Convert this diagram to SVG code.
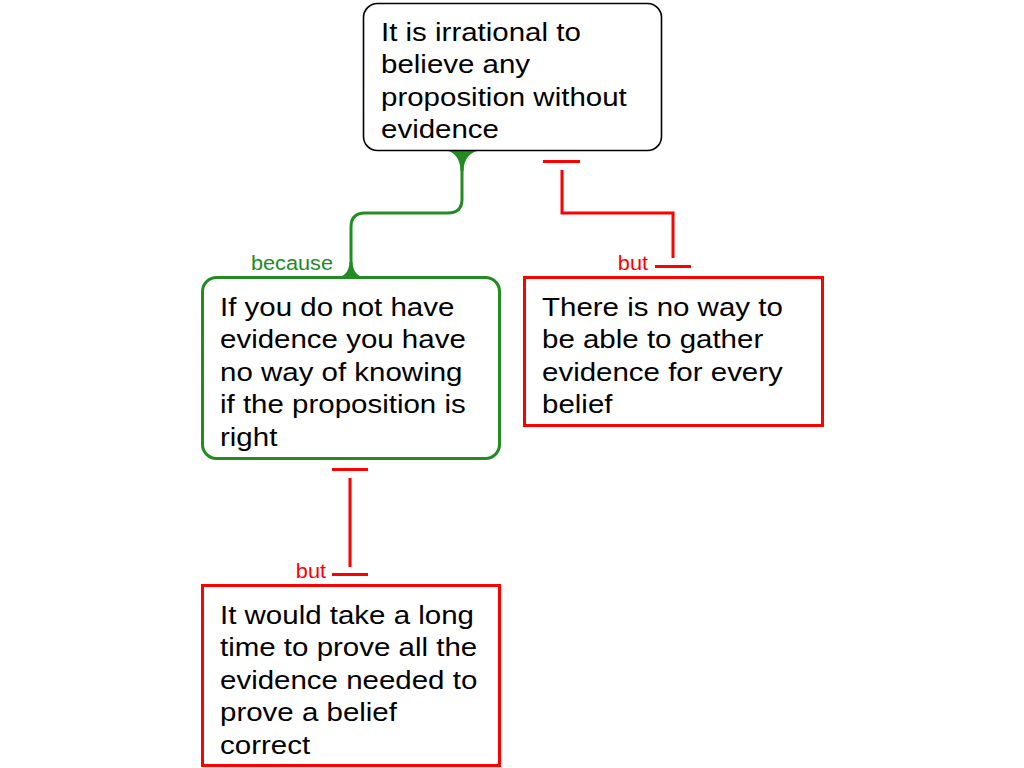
<svg xmlns="http://www.w3.org/2000/svg" width="1024" height="768" viewBox="0 0 1024 768">
<style>
.t{font-family:"Liberation Sans",Arial,sans-serif;font-size:26.5px;fill:#000}
.lbl{font-family:"Liberation Sans",Arial,sans-serif;font-size:19.5px;text-anchor:end}
.g{fill:#228B22}
.r{fill:#FF0000}
.box{fill:#fff}
.sg{stroke:#228B22;stroke-width:3;fill:none}
.sr{stroke:#FF0000;stroke-width:3;fill:none}
</style>
<rect width="1024" height="768" fill="#fff"/>
<g id="connectors">
  <path class="sg" d="M462,151 L462,199 Q462,213 448,213 L365,213 Q351,213 351,227 L351,277"/>
  <path class="g" d="M444,150 L482,150 Q464,152 463.5,171 L460.5,171 Q460,152 444,150 Z"/>
  <path class="g" d="M336,278 L366,278 Q353,276 352.5,262 L349.5,262 Q349,276 336,278 Z"/>
  <text class="lbl g" transform="translate(333,270) scale(1.113,1)">because</text>
  <path class="sr" d="M543,161.5 L580,161.5 M562,170 L562,213 L673,213 L673,258 M655,266.5 L691,266.5"/>
  <text class="lbl r" transform="translate(648,270) scale(1.113,1)">but</text>
  <path class="sr" d="M332,469.5 L368,469.5 M350,478 L350,567 M332,574.5 L368,574.5"/>
  <text class="lbl r" transform="translate(326,578) scale(1.113,1)">but</text>
</g>
<g id="node-main">
  <rect x="363.5" y="3.5" width="298" height="147" rx="14" class="box" stroke="#000" stroke-width="1.6"/>
  <text class="t" transform="translate(381,41) scale(1.113,1)"><tspan x="0" y="0">It is irrational to</tspan><tspan x="0" y="32.5">believe any</tspan><tspan x="0" y="65">proposition without</tspan><tspan x="0" y="97.5">evidence</tspan></text>
</g>
<g id="node-because">
  <rect x="202.5" y="277.5" width="297" height="181" rx="14" class="box sg" style="fill:#fff"/>
  <text class="t" transform="translate(220,316) scale(1.113,1)"><tspan x="0" y="0">If you do not have</tspan><tspan x="0" y="32.5">evidence you have</tspan><tspan x="0" y="65">no way of knowing</tspan><tspan x="0" y="97.5">if the proposition is</tspan><tspan x="0" y="130">right</tspan></text>
</g>
<g id="node-but-right">
  <rect x="524.5" y="277.5" width="298" height="148" class="box sr" style="fill:#fff"/>
  <text class="t" transform="translate(542,316) scale(1.113,1)"><tspan x="0" y="0">There is no way to</tspan><tspan x="0" y="32.5">be able to gather</tspan><tspan x="0" y="65">evidence for every</tspan><tspan x="0" y="97.5">belief</tspan></text>
</g>
<g id="node-but-bottom">
  <rect x="202.5" y="585.5" width="297" height="180" class="box sr" style="fill:#fff"/>
  <text class="t" transform="translate(220,624) scale(1.113,1)"><tspan x="0" y="0">It would take a long</tspan><tspan x="0" y="32.5">time to prove all the</tspan><tspan x="0" y="65">evidence needed to</tspan><tspan x="0" y="97.5">prove a belief</tspan><tspan x="0" y="130">correct</tspan></text>
</g>
</svg>
